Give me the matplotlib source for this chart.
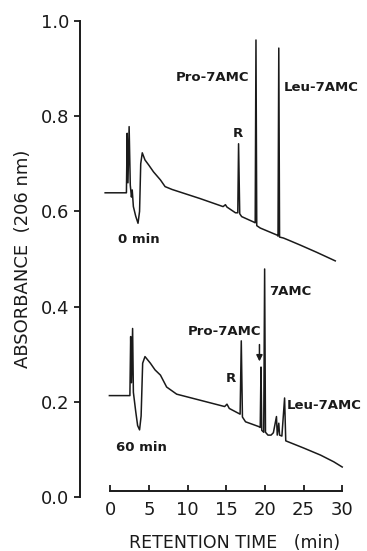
import matplotlib
matplotlib.use("Agg")
import matplotlib.pyplot as plt

# chromatogram at 0 min (retention time in min, absorbance)
t_0min = [-0.65, 2.1, 2.2, 2.3, 2.45, 2.6, 2.75, 2.85, 3.0, 3.3, 3.6, 3.8, 3.95, 4.15,
          4.5, 5.0, 5.6, 6.5, 7.1, 8.0, 11.6, 14.6, 14.9, 15.1, 16.2, 16.5, 16.6, 16.75,
          17.0, 18.5, 18.75, 18.85, 18.95, 19.4, 21.6, 21.7, 21.8, 21.9, 22.4, 23.0,
          24.6, 26.7, 29.1]
a_0min = [0.639, 0.639, 0.764, 0.66, 0.778, 0.655, 0.63, 0.645, 0.61, 0.59, 0.575, 0.60, 0.70, 0.723,
          0.708, 0.697, 0.683, 0.666, 0.652, 0.646, 0.627, 0.61, 0.614, 0.609, 0.597, 0.597, 0.742, 0.595,
          0.589, 0.578, 0.576, 0.96, 0.57, 0.565, 0.550, 0.548, 0.943, 0.546, 0.544, 0.54,
          0.529, 0.514, 0.496]

# chromatogram at 60 min
t_60min = [-0.1, 2.55, 2.65, 2.75, 2.9, 3.0, 3.15, 3.3, 3.55, 3.8, 4.0, 4.2, 4.5, 5.2,
           5.8, 6.5, 7.3, 8.6, 14.8, 15.1, 15.4, 16.8, 16.95, 17.1, 17.5, 19.2, 19.4, 19.5,
           19.6, 19.85, 19.97, 20.08, 20.4, 20.8, 21.1, 21.5, 21.6, 21.8, 21.9, 22.2,
           22.55, 22.7, 23.0, 25.0, 27.2, 28.9, 30.0]
a_60min = [0.213, 0.213, 0.337, 0.24, 0.354, 0.22, 0.20, 0.18, 0.15, 0.141, 0.17, 0.281, 0.295, 0.281,
           0.267, 0.256, 0.231, 0.216, 0.190, 0.195, 0.186, 0.174, 0.328, 0.168, 0.158, 0.148, 0.146, 0.273,
           0.14, 0.136, 0.479, 0.136, 0.13, 0.13, 0.135, 0.169, 0.13, 0.155, 0.13, 0.128,
           0.208, 0.118, 0.116, 0.103, 0.088, 0.074, 0.063]

x_ticks = [0, 5, 10, 15, 20, 25, 30]
y_ticks = [0.0, 0.2, 0.4, 0.6, 0.8, 1.0]

################################################################################

fig = plt.figure(figsize=(3.67, 5.51), dpi=100)
ax = fig.add_axes([0.218, 0.098, 0.725, 0.864])

ink = "#1a1a1a"
ax.plot(t_0min, a_0min, color=ink, lw=1.1, clip_on=False)
ax.plot(t_60min, a_60min, color=ink, lw=1.1, clip_on=False)

ax.set_xlim(-3.9, 30.5)
ax.set_ylim(0, 1.0)

ax.spines["top"].set_visible(False)
ax.spines["right"].set_visible(False)
ax.spines["left"].set_bounds(0, 1.0)
ax.spines["bottom"].set_bounds(0, 30)
ax.spines["bottom"].set_position(("data", 0.013))
for s in ["left", "bottom"]:
    ax.spines[s].set_linewidth(1.4)
    ax.spines[s].set_color(ink)

ax.set_xticks(x_ticks)
ax.set_yticks(y_ticks)
ax.set_yticklabels(["%.1f" % v for v in y_ticks])
ax.tick_params(axis="x", direction="in", length=4, width=1.3, pad=7, labelsize=13, colors=ink)
ax.tick_params(axis="y", direction="out", length=4, width=1.3, pad=4, labelsize=13, colors=ink)

ax.set_xlabel("RETENTION TIME   (min)", fontsize=12.5, color=ink)
ax.xaxis.set_label_coords(0.58, -0.077)
ax.set_ylabel("ABSORBANCE  (206 nm)", fontsize=13, color=ink, labelpad=6)

# peak labels
lab = dict(fontsize=9.5, fontweight="bold", color=ink)
ax.text(18.0, 0.882, "Pro-7AMC", ha="right", va="center", **lab)
ax.text(22.5, 0.861, "Leu-7AMC", ha="left", va="center", **lab)
ax.text(16.5, 0.764, "R", ha="center", va="center", **lab)
ax.text(3.7, 0.54, "0 min", ha="center", va="center", **lab)

ax.text(19.5, 0.347, "Pro-7AMC", ha="right", va="center", **lab)
ax.text(20.6, 0.431, "7AMC", ha="left", va="center", **lab)
ax.text(15.65, 0.248, "R", ha="center", va="center", **lab)
ax.text(22.85, 0.193, "Leu-7AMC", ha="left", va="center", **lab)
ax.text(4.1, 0.105, "60 min", ha="center", va="center", **lab)

ax.annotate("", xy=(19.3, 0.279), xytext=(19.3, 0.326),
            arrowprops=dict(arrowstyle="-|>", color=ink, lw=1.1, mutation_scale=9))

plt.savefig("out.png", dpi=100)
plt.close()
